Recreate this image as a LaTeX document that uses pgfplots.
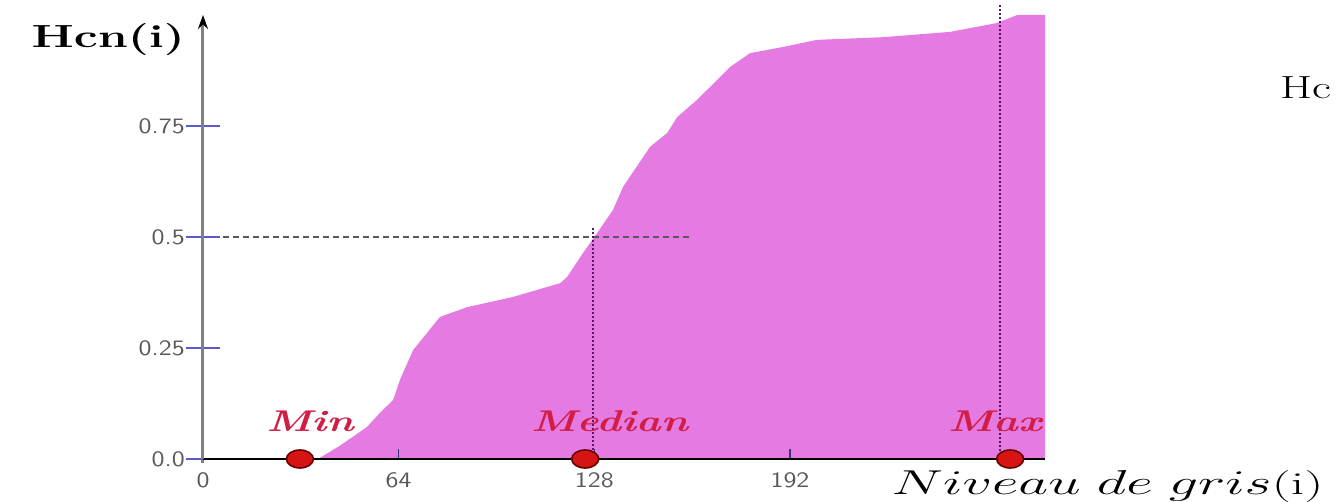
\documentclass[border=0pt]{standalone}
\usepackage{pgfplots}
\usepackage{pgfplotstable}
\pgfplotsset{compat=1.18}
\usetikzlibrary{arrows.meta}

\definecolor{histfill}{RGB}{229,123,226}
\definecolor{lblred}{RGB}{210,30,70}
\definecolor{mkred}{RGB}{215,20,20}
\definecolor{tickblue}{RGB}{90,90,200}
\definecolor{dotpurple}{RGB}{90,20,100}

% cumulative normalised histogram
\pgfplotstableread{
x     y
37.6  0
44.8  0.030
53.6  0.072
57.9  0.104
62.2  0.133
64.4  0.178
68.7  0.245
77.5  0.320
86.4  0.342
101.4 0.365
116.8 0.396
119.1 0.410
124.3 0.464
128.9 0.509
134.1 0.561
137.4 0.613
146.2 0.703
151.8 0.734
155.1 0.770
161.6 0.809
169.1 0.860
172.4 0.883
178.9 0.914
189.7 0.928
200.8 0.944
222.4 0.950
244.4 0.962
259.7 0.982
266.3 1.0
275.4 1.0
}\cumul

\begin{document}
\begin{tikzpicture}
\useasboundingbox (-101.5pt,-21.5pt) rectangle (569.5pt,229.5pt);
\begin{axis}[
    scale only axis,
    width=421pt, height=222pt,
    xmin=0, xmax=275.4,
    ymin=0, ymax=1,
    axis x line=bottom,
    axis y line=left,
    x axis line style={black, line width=0.8pt, -},
    y axis line style={draw=gray, line width=1.5pt, -{Stealth[length=7pt,width=5pt,black]}},
    xtick={0,64,128,192},
    ytick={0,0.25,0.5,0.75},
    yticklabels={0.0,0.25,0.5,0.75},
    xtick style={draw=none},
    ytick style={draw=tickblue, line width=0.8pt},
    major tick length=17pt,
    tick align=center,
    tick label style={font=\sffamily\fontsize{11}{12}\selectfont, text=gray!70!black, xscale=1.2},
    yticklabel style={xshift=3pt},
    xticklabel style={yshift=5pt},
    /pgf/number format/assume math mode=true,
    clip=false,
    axis on top,
]

\addplot[fill=histfill, draw=none] table {\cumul} \closedcycle;

% median guides
\addplot[gray!70!black, densely dashed, line width=0.6pt] coordinates {(0,0.5) (159,0.5)};
\addplot[dotpurple, densely dotted, line width=1pt] coordinates {(127.6,0.52) (127.6,0)};
% max guide
\addplot[dotpurple, densely dotted, line width=1pt] coordinates {(260.7,1.0225) (260.7,0)};

% min / median / max markers
\addplot[only marks, mark=*, mark size=4.5pt,
    mark options={fill=mkred, draw=red!40!black, line width=0.8pt, xscale=1.5}]
    coordinates {(31.7,0) (125,0) (264,0)};

\pgfplotsinvokeforeach{64,128,192}{
  \draw[tickblue!60!black, line width=0.8pt] (axis cs:#1,0) -- ++(0,5pt);
}
\draw[black, line width=0.8pt] (axis cs:-4.3,0) -- (axis cs:0,0);
\draw[gray, line width=1.5pt] (axis cs:0,0) -- (axis cs:0,-0.01);

\node[lblred, font=\bfseries\itshape\fontsize{15}{15}\selectfont, xscale=1.4] at (axis cs:35,0.085) {Min};
\node[lblred, font=\bfseries\itshape\fontsize{15}{15}\selectfont, xscale=1.4] at (axis cs:133,0.085) {Median};
\node[lblred, font=\bfseries\itshape\fontsize{15}{15}\selectfont, xscale=1.4] at (axis cs:259,0.085) {Max};

\node[font=\bfseries\fontsize{16}{16}\selectfont, xscale=1.5] at (axis cs:-31,0.944) {Hcn(i)};
\node[font=\fontsize{16}{16}\selectfont, xscale=1.68, anchor=east] at (axis cs:370.3,-0.063) {$Niveau\ de\ gris$(i)};
\node[font=\fontsize{16}{16}\selectfont, xscale=1.45, anchor=east] at (axis cs:372.3,0.836) {Hc};

\end{axis}
\end{tikzpicture}
\end{document}
